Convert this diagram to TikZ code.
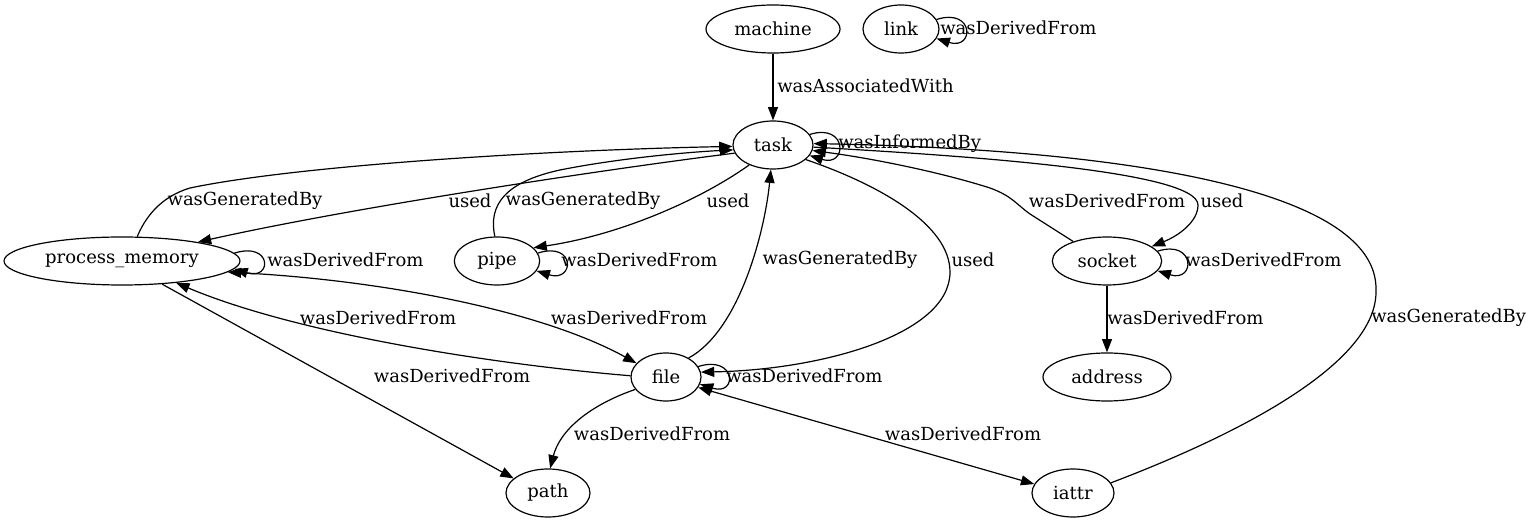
\documentclass[tikz,border=0pt]{standalone}
\usepackage{fontspec}
\setmainfont{DejaVu Serif}
\usetikzlibrary{arrows.meta,shapes.geometric}
\begin{document}
\begin{tikzpicture}[x=0.75pt,y=-0.75pt,
  every node/.style={font=\fontsize{13.5}{16}\selectfont},
  nd/.style={draw,ellipse,inner sep=0pt,minimum height=36pt,line width=0.9pt},
  lbl/.style={inner sep=0pt},
  edge/.style={line width=0.9pt,-{Triangle[length=10pt,width=7.5pt]}},
  bidi/.style={line width=0.9pt,{Triangle[length=10pt,width=7.5pt]}-{Triangle[length=10pt,width=7.5pt]}},
  selfloop/.style={edge,to path={.. controls +(38,-12) and +(38,12) .. (\tikztotarget)}}]
\useasboundingbox (0,0) rectangle (1539,523);
% nodes
\node[nd,minimum width=100.5pt] (machine) at (773,29) {machine};
\node[nd,minimum width=57pt] (link) at (901,29) {link};
\node[nd,minimum width=60pt] (task) at (773,145) {task};
\node[nd,minimum width=177pt] (pm) at (122,261) {process\_memory};
\node[nd,minimum width=64pt] (pipe) at (497,261) {pipe};
\node[nd,minimum width=82pt] (socket) at (1107,261) {socket};
\node[nd,minimum width=52.5pt] (file) at (666,377) {file};
\node[nd,minimum width=96pt] (address) at (1107,377) {address};
\node[nd,minimum width=63pt] (path) at (548,493) {path};
\node[nd,minimum width=61.5pt] (iattr) at (1073,493) {iattr};
% edges
\draw[edge] (machine) -- (task);
\node[lbl,anchor=west] (l1) at (777,86) {wasAssociatedWith};
\draw[selfloop] (link.15) to (link.-15);
\node[lbl,anchor=west] (l2) at (940,28) {wasDerivedFrom};
\draw[selfloop] (task.16) to (task.-16);
\node[lbl,anchor=west] (l3) at (838,144) {wasInformedBy};
\draw[edge] (pm.58) .. controls (145,218) and (160,197) .. (190,188) .. controls (300,165) and (550,150) .. (task.182);
\node[lbl] (l4) at (245,201) {wasGeneratedBy};
\draw[edge] (task.192) .. controls (600,170) and (350,208) .. (pm.14);
\node[lbl] (l5) at (470,201) {used};
\draw[edge] (pipe.95) .. controls (488,205) and (505,182) .. (560,170) .. controls (620,158) and (690,152) .. (task.187);
\node[lbl] (l6) at (583,201) {wasGeneratedBy};
\draw[edge] (task.220) .. controls (700,200) and (620,235) .. (pipe.20);
\node[lbl] (l7) at (728,201) {used};
\draw[selfloop] (pm.4) to (pm.-4);
\node[lbl,anchor=west] (l8) at (267,260) {wasDerivedFrom};
\draw[selfloop] (pipe.11) to (pipe.-14);
\node[lbl,anchor=west] (l9) at (561,260) {wasDerivedFrom};
\draw[edge] (file.40) .. controls (740,330) and (765,230) .. (task.265);
\node[lbl] (l10) at (840,260) {wasGeneratedBy};
\draw[edge] (task.-24) .. controls (880,185) and (950,225) .. (950,272) .. controls (950,335) and (820,370) .. (file.8);
\node[lbl] (l11) at (973,260) {used};
\draw[edge] (task.-3) .. controls (950,155) and (1198,170) .. (1198,205) .. controls (1198,222) and (1178,236) .. (socket.18);
\node[lbl] (l12) at (1222,201) {used};
\draw[edge] (socket.150) -- (1030,214) .. controls (1016,204) and (1012,196) .. (990,188) .. controls (940,172) and (870,158) .. (task.-8);
\node[lbl] (l13) at (1107,201) {wasDerivedFrom};
\draw[selfloop] (socket.11) to (socket.-11);
\node[lbl,anchor=west] (l14) at (1185,260) {wasDerivedFrom};
\draw[edge] (socket) -- (address);
\node[lbl,anchor=west] (l15) at (1107,318) {wasDerivedFrom};
\draw[edge] (iattr.15) .. controls (1250,430) and (1378,360) .. (1376,290) .. controls (1378,195) and (1150,150) .. (task.2);
\node[lbl,anchor=west] (l16) at (1371,318) {wasGeneratedBy};
\draw[bidi] (file.-18) -- (iattr.167);
\node[lbl] (l17) at (963,434) {wasDerivedFrom};
\draw[bidi] (pm.-6) .. controls (380,280) and (540,310) .. (file.155);
\node[lbl] (l18) at (629,318) {wasDerivedFrom};
\draw[edge] (file.178) .. controls (500,365) and (300,335) .. (pm.-22);
\node[lbl] (l19) at (378,318) {wasDerivedFrom};
\draw[edge] (pm.-30) -- (path.157);
\node[lbl] (l20) at (452,376) {wasDerivedFrom};
\draw[edge] (file.202) .. controls (590,405) and (560,430) .. (path.85);
\node[lbl] (l21) at (652,434) {wasDerivedFrom};
\draw[selfloop] (file.18) to (file.-12);
\node[lbl,anchor=west] (l22) at (726,376) {wasDerivedFrom};
\end{tikzpicture}
\end{document}
